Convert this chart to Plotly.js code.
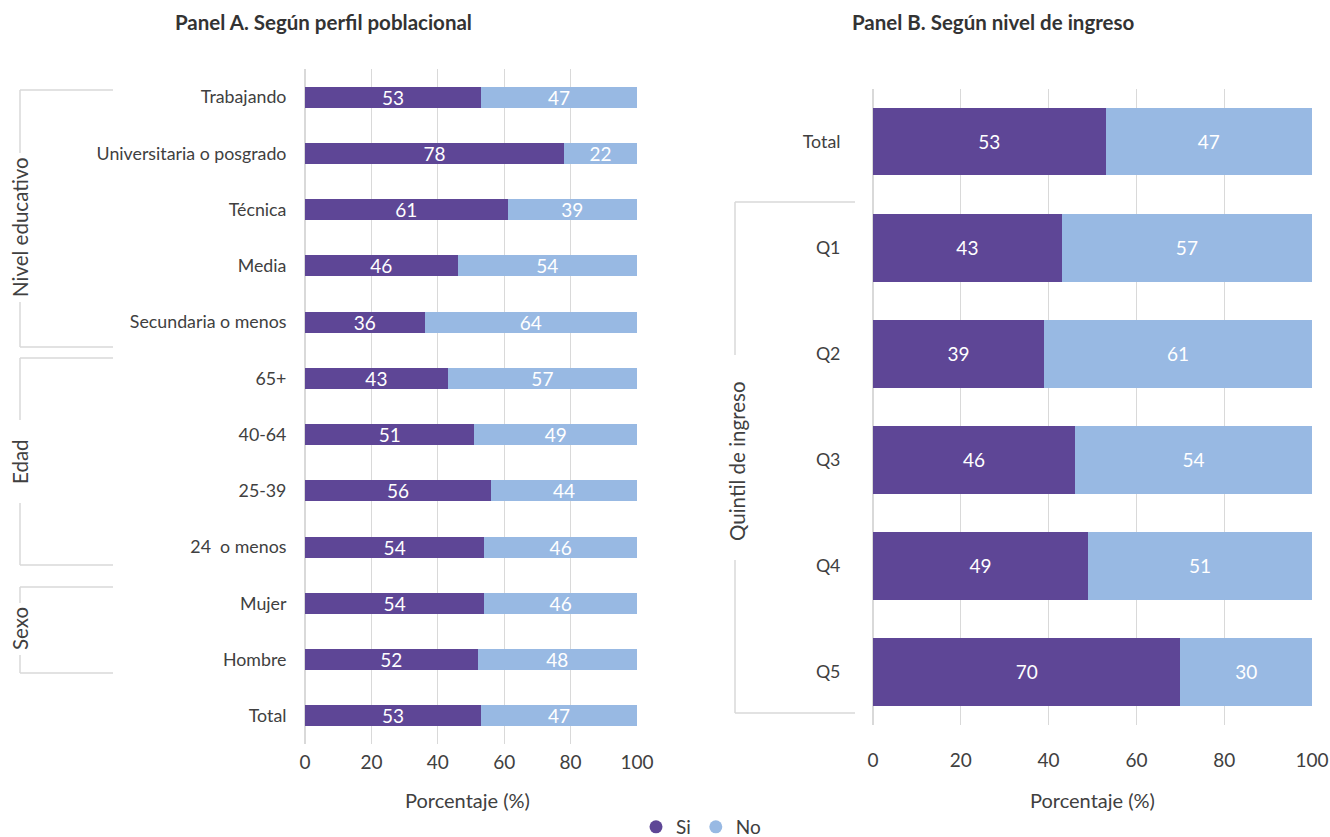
<!DOCTYPE html>
<html>
<head>
<meta charset="utf-8">
<script src="https://cdn.plot.ly/plotly-3.0.1.min.js"></script>
<style>html,body{margin:0;padding:0;background:#fff;}#chart{width:1330px;height:837px;}</style>
</head>
<body>
<div id="chart"></div>
<script>
// Panel A data (top to bottom)
const catsA = ["Trabajando", "Universitaria o posgrado", "Técnica", "Media", "Secundaria o menos", "65+", "40-64", "25-39", "24  o menos", "Mujer", "Hombre", "Total"];
const siA = [53, 78, 61, 46, 36, 43, 51, 56, 54, 54, 52, 53];
const noA = [47, 22, 39, 54, 64, 57, 49, 44, 46, 46, 48, 47];

// Panel B data (top to bottom)
const catsB = ["Total", "Q1", "Q2", "Q3", "Q4", "Q5"];
const siB = [53, 43, 39, 46, 49, 70];
const noB = [47, 57, 61, 54, 51, 30];

const xTicks = [0, 20, 40, 60, 80, 100];
const seriesNames = ["Si", "No"];

const W = 1330, H = 837;
const px = x => x / W;
const py = y => 1 - y / H;

const PURPLE = "#5E4696";
const BLUE = "#98B9E3";
const GRID = "#D9D9D9";
const TXT = "#404040";
const FONT = "Lato, 'Noto Sans', sans-serif";

function barTrace(name, x, y, color, xa, ya, size) {
  return {
    type: "bar", orientation: "h", name: name, x: x, y: y,
    xaxis: xa, yaxis: ya,
    marker: {color: color, line: {width: 0}},
    width: size,
    text: x.map(String), textposition: "inside", insidetextanchor: "middle",
    textangle: 0, constraintext: "none",
    textfont: {color: "#FFFFFF", size: 19, family: FONT},
    showlegend: false, hoverinfo: "x+y"
  };
}

const data = [
  barTrace(seriesNames[0], siA, catsA, PURPLE, "x", "y", 0.375),
  barTrace(seriesNames[1], noA, catsA, BLUE, "x", "y", 0.375),
  barTrace(seriesNames[0], siB, catsB, PURPLE, "x2", "y2", 0.64),
  barTrace(seriesNames[1], noB, catsB, BLUE, "x2", "y2", 0.64),
  {type: "scatter", mode: "markers", name: seriesNames[0], x: [null], y: [null], xaxis: "x", yaxis: "y",
   marker: {color: PURPLE, size: 13, symbol: "circle"}, showlegend: true},
  {type: "scatter", mode: "markers", name: seriesNames[1], x: [null], y: [null], xaxis: "x", yaxis: "y",
   marker: {color: BLUE, size: 13, symbol: "circle"}, showlegend: true}
];

function xAxis(domain, anchor, ticklen) {
  return {
    domain: domain, anchor: anchor, range: [0, 100], tickvals: xTicks, ticktext: xTicks.map(String),
    showgrid: true, gridcolor: GRID, gridwidth: 1.3, zeroline: true, zerolinecolor: GRID, zerolinewidth: 1.3,
    showline: false, ticks: "outside", ticklen: ticklen, tickcolor: "rgba(0,0,0,0)",
    tickfont: {size: 19, color: TXT, family: FONT}, fixedrange: true
  };
}
function yAxis(domain, anchor, cats, ticklen) {
  return {
    domain: domain, anchor: anchor, type: "category", categoryorder: "array", categoryarray: cats,
    range: [cats.length - 0.5, -0.5], showgrid: false, zeroline: false, showline: false,
    ticks: "outside", ticklen: ticklen, tickcolor: "rgba(0,0,0,0)",
    tickfont: {size: 17.8, color: TXT, family: FONT}, fixedrange: true
  };
}

const lineStyle = {color: GRID, width: 1.5};
function seg(x0, y0, x1, y1) {
  return {type: "line", xref: "paper", yref: "paper", x0: px(x0), y0: py(y0), x1: px(x1), y1: py(y1), line: lineStyle};
}
const shapes = [
  // Nivel educativo
  seg(20, 90, 113, 90), seg(20, 90, 20, 153), seg(20, 302, 20, 347), seg(20, 347, 113, 347),
  // Edad
  seg(20, 358, 113, 358), seg(20, 358, 20, 420), seg(20, 503, 20, 565), seg(20, 565, 113, 565),
  // Sexo
  seg(20, 587, 113, 587), seg(20, 587, 20, 603), seg(20, 655, 20, 673), seg(20, 673, 113, 673),
  // Quintil de ingreso
  seg(735, 202, 855, 202), seg(735, 202, 735, 355), seg(735, 560, 735, 713), seg(735, 713, 855, 713)
];

function ann(text, x, y, opts) {
  return Object.assign({text: text, xref: "paper", yref: "paper", x: px(x), y: py(y),
    xanchor: "center", yanchor: "middle", showarrow: false,
    font: {size: 20, color: TXT, family: FONT}}, opts || {});
}
const annotations = [
  ann("<b>Panel A. Según perfil poblacional</b>", 323, 22, {font: {size: 20.5, color: "#333333", family: FONT}}),
  ann("<b>Panel B. Según nivel de ingreso</b>", 993, 22, {font: {size: 20.5, color: "#333333", family: FONT}}),
  ann("Porcentaje (%)", 467, 800),
  ann("Porcentaje (%)", 1092, 800),
  ann("Nivel educativo", 20, 227, {textangle: -90, font: {size: 20.5, color: TXT, family: FONT}}),
  ann("Edad", 20, 462, {textangle: -90, font: {size: 20.5, color: TXT, family: FONT}}),
  ann("Sexo", 20, 629, {textangle: -90, font: {size: 20.5, color: TXT, family: FONT}}),
  ann("Quintil de ingreso", 737, 461, {textangle: -90, font: {size: 20.5, color: TXT, family: FONT}})
];

const layout = {
  width: W, height: H, margin: {l: 0, r: 0, t: 0, b: 0, autoexpand: false},
  paper_bgcolor: "#FFFFFF", plot_bgcolor: "#FFFFFF",
  font: {family: FONT, color: TXT},
  barmode: "stack",
  xaxis: xAxis([px(305), px(637)], "y", 1),
  yaxis: yAxis([py(744), py(69)], "x", catsA, 14),
  xaxis2: xAxis([px(873), px(1312)], "y2", 18),
  yaxis2: yAxis([py(725), py(88.5)], "x2", catsB, 28),
  showlegend: true,
  legend: {orientation: "h", x: px(701), xanchor: "center", y: py(827), yanchor: "middle",
    font: {size: 19, color: TXT, family: FONT}, itemwidth: 30, traceorder: "normal"},
  shapes: shapes,
  annotations: annotations
};

Plotly.newPlot("chart", data, layout, {displayModeBar: false, staticPlot: true});
</script>
</body>
</html>
